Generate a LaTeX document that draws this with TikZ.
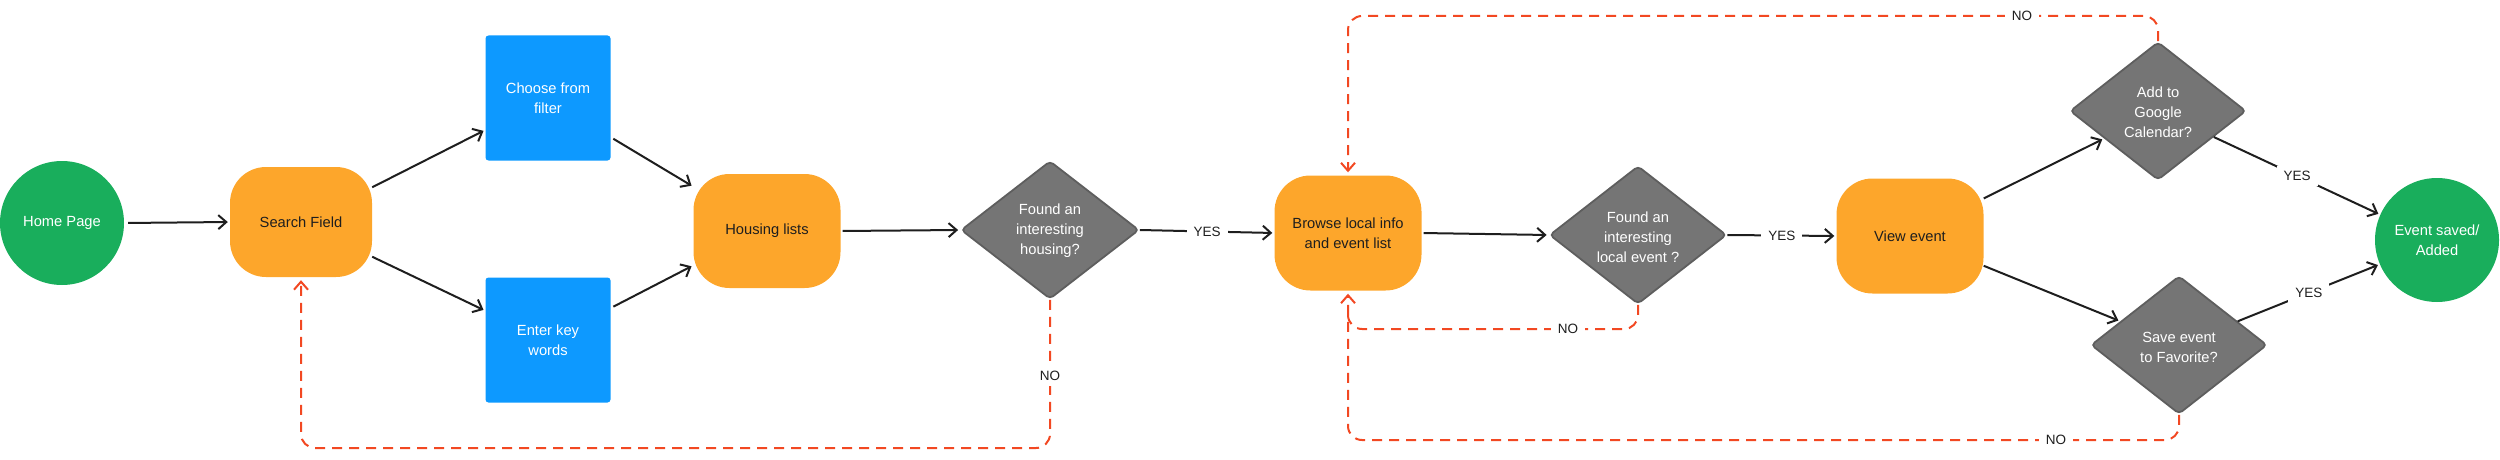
\documentclass[tikz,border=0pt]{standalone}
\usepackage{fontspec}
\setmainfont{Liberation Sans}
\usetikzlibrary{arrows.meta,shapes.geometric,calc}
\definecolor{orng}{HTML}{FDA62B}
\definecolor{grn}{HTML}{19AE5C}
\definecolor{blu}{HTML}{0D99FF}
\definecolor{gry}{HTML}{757575}
\definecolor{gryd}{HTML}{5E5E5E}
\definecolor{redc}{HTML}{F24822}
\definecolor{ink}{HTML}{1E1E1E}
\begin{document}
\begin{tikzpicture}[x=1pt,y=-1pt,
  every node/.style={align=center, font=\fontsize{14.7}{20}\selectfont},
  obox/.style={fill=orng, rounded corners=36pt, minimum width=147pt, minimum height=115pt, inner sep=0pt, text=ink},
  bbox/.style={fill=blu, rounded corners=3pt, minimum width=125pt, minimum height=125pt, inner sep=0pt, text=white},
  circ/.style={circle, fill=grn, minimum size=124pt, inner sep=0pt, text=white},
  dia/.style={diamond, fill=gry, draw=gryd, line width=1.8pt, rounded corners=4pt, minimum width=176pt, minimum height=138pt, inner sep=0pt},
  dtext/.style={text=white, inner sep=0pt},
  flow/.style={draw=ink, line width=2pt, -{Straight Barb[length=8pt,width=14pt,line width=2pt]}, shorten >=2pt},
  loopl/.style={draw=redc, line width=2pt, dash pattern=on 10pt off 7pt, rounded corners=14pt},
  larrow/.style={-{Straight Barb[length=8pt,width=14pt,line width=2pt]}, shorten >=3pt},
  lbl/.style={fill=white, inner xsep=7pt, inner ysep=5pt, text=ink, font=\fontsize{13.5}{15}\selectfont}
]
\useasboundingbox (0,0) rectangle (2500,460);

% nodes
\node[circ] (hp) at (62,223) {Home Page};
\node[obox, minimum width=142pt, minimum height=110pt] (sf) at (301,222) {Search Field};
\node[bbox] (ch) at (548,98) {Choose from\\filter};
\node[bbox] (ek) at (548,340) {Enter key\\words};
\node[obox, minimum height=114pt] (hl) at (767,231) {Housing lists};
\node[dia, minimum width=178pt] (d1) at (1050,230) {};
\node[dtext] (t1) at (1050,231) {Found an\\interesting\\housing?};
\node[obox] (br) at (1348,233) {Browse local info\\and event list};
\node[dia, minimum width=177pt] (d2) at (1638,235) {};
\node[dtext] (t2) at (1638,237) {Found an\\interesting\\local event ?};
\node[obox] (ve) at (1910,236) {View event};
\node[dia] (ag) at (2158,111) {};
\node[dtext] (t3) at (2158,112) {Add to\\Google\\Calendar?};
\node[dia] (sv) at (2179,345) {};
\node[dtext] (t4) at (2179,347) {Save event\\to Favorite?};
\node[circ] (ev) at (2437,240) {Event saved/\\Added};

% solid connectors
\draw[flow, shorten <=4pt] (hp.east) -- (sf.west);
\draw[flow] (sf.26) -- (ch.207);
\draw[flow] (sf.-26) -- (ek.155);
\draw[flow, shorten <=3pt] (ch.-32) -- (hl.149);
\draw[flow, shorten <=3pt] (ek.27) -- (hl.205);
\draw[flow, shorten <=2pt] (hl.east) -- (d1.west);
\draw[flow] (d1.east) -- node[lbl] (y1) {YES} (br.west);
\draw[flow, shorten <=2pt] (br.east) -- (d2.west);
\draw[flow] (d2.east) -- node[lbl] (y2) {YES} (ve.west);
\draw[flow] (ve.27) -- (ag.207);
\draw[flow] (ve.-22) -- (sv.158);
\draw[flow] (ag.-25) -- node[lbl] (y3) {YES} (ev.156);
\draw[flow] (sv.22) -- node[lbl] (y4) {YES} (ev.203);

% dashed loops
\coordinate (ya) at (0,448);
\coordinate (yb) at (0,329);
\coordinate (yc) at (0,16);
\coordinate (yd) at (0,440);
\coordinate (jn) at (1348,315);
\draw[loopl, larrow] (d1.south) -- (d1.south |- ya) -- (sf.south |- ya) -- (sf.south);
\draw[loopl] (d2.south) -- (d2.south |- yb) -- (br.south |- yb) -- (jn);
\draw[loopl, larrow] (ag.north) -- (ag.north |- yc) -- (br.north |- yc) -- (br.north);
\draw[loopl, larrow] (sv.south) -- (sv.south |- yd) -- (br.south |- yd) -- (br.south);

\node[lbl] (n1) at (1050,376) {NO};
\node[lbl] (n2) at (1568,329) {NO};
\node[lbl] (n3) at (2022,16) {NO};
\node[lbl] (n4) at (2056,440) {NO};
\end{tikzpicture}
\end{document}
